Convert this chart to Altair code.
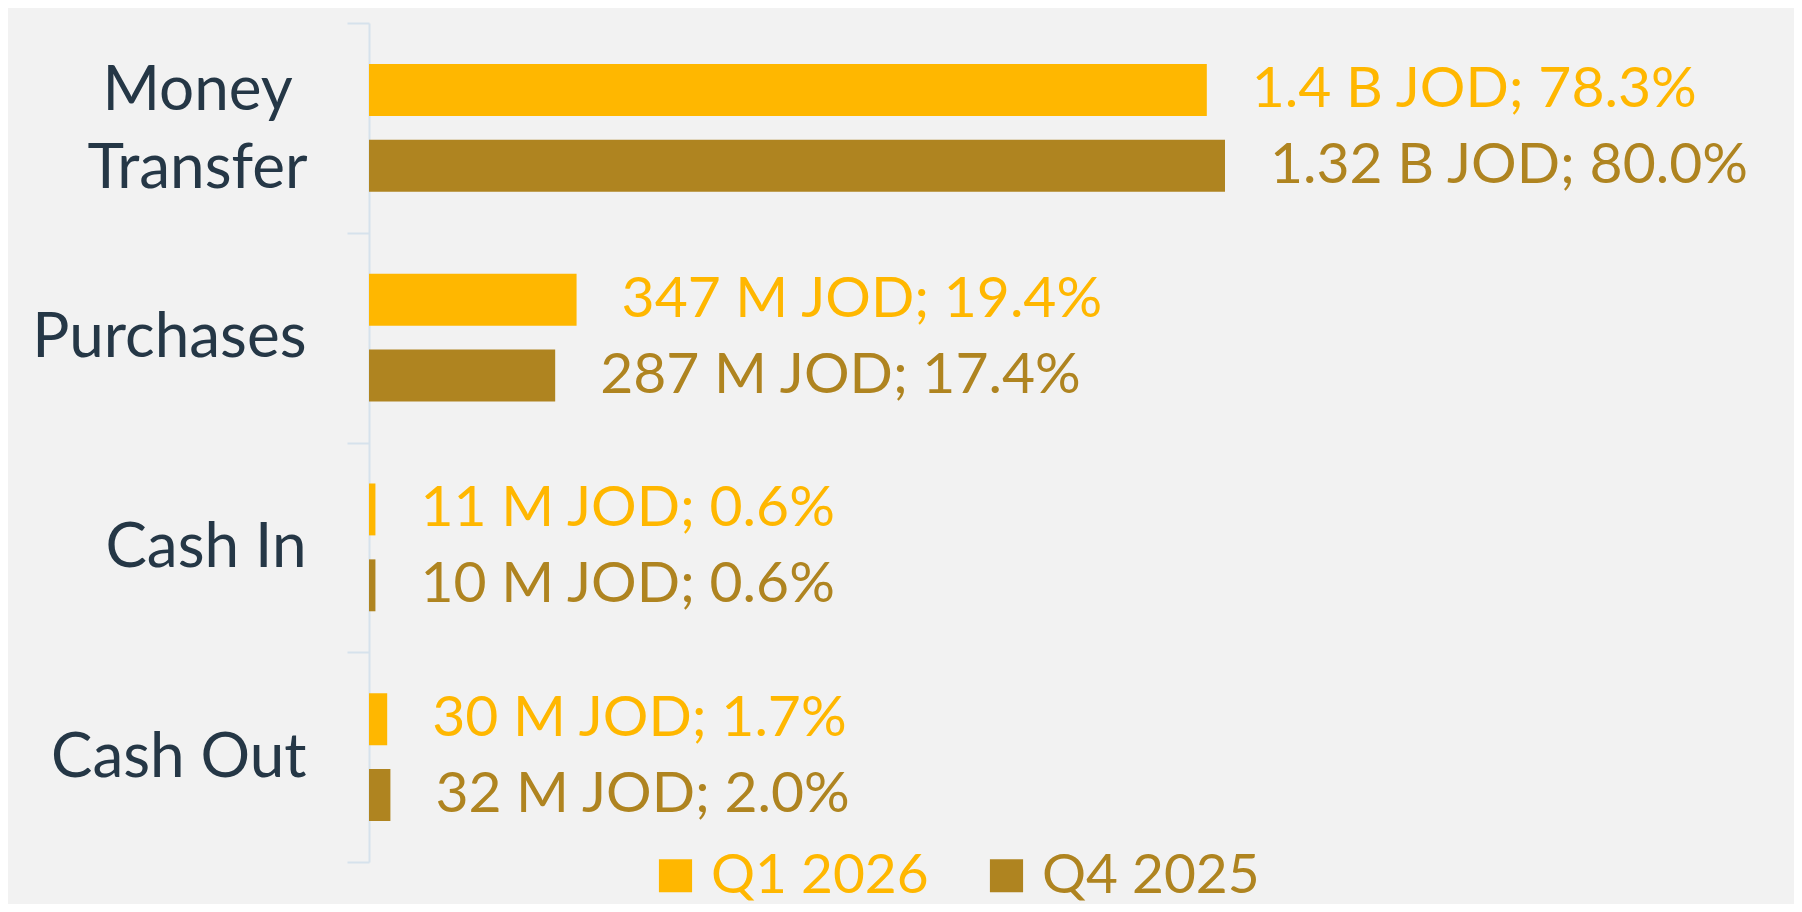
import altair as alt
import pandas as pd

categories = ["Money Transfer", "Purchases", "Cash In", "Cash Out"]
series = ["Q1 2026", "Q4 2025"]
series_colors = ["#FFB700", "#AF8420"]

pct_q1 = [78.3, 19.4, 0.6, 1.7]
pct_q4 = [80.0, 17.4, 0.6, 2.0]
amount_q1 = ["1.4 B", "347 M", "11 M", "30 M"]
amount_q4 = ["1.32 B", "287 M", "10 M", "32 M"]

rows = []
for s, pcts, amts in [(series[0], pct_q1, amount_q1), (series[1], pct_q4, amount_q4)]:
    for c, p, a in zip(categories, pcts, amts):
        rows.append({"category": c, "series": s, "pct": p,
                     "label": f"{a} JOD; {p:.1f}%"})
df = pd.DataFrame(rows)

FONT = "Lato"
TWO_LINE = "datum.label == 'Money Transfer'"

color = alt.Color(
    "series:N",
    scale=alt.Scale(domain=series, range=series_colors),
    legend=alt.Legend(
        title=None,
        orient="none",
        legendX=279,
        legendY=825,
        direction="horizontal",
        symbolType="square",
        symbolSize=1100,
        symbolStrokeWidth=0,
        labelFontSize=55,
        labelFont=FONT,
        labelOffset=8,
        labelLimit=0,
        columnPadding=50,
        labelColor=alt.ExprRef("datum.label == 'Q1 2026' ? '#FFB700' : '#AF8420'"),
    ),
)

base = alt.Chart(df).encode(
    y=alt.Y(
        "category:N",
        sort=categories,
        scale=alt.Scale(paddingInner=0, paddingOuter=0),
        axis=alt.Axis(
            title=None,
            tickBand="extent",
            domainColor="#D6E2EC",
            domainWidth=2,
            tickColor="#D6E2EC",
            tickWidth=2,
            tickSize=22,
            labelFont=FONT,
            labelFontSize=62,
            labelColor="#253746",
            labelLimit=0,
            labelLineHeight=78,
            labelAlign=alt.ConditionalAxisLabelAlign(
                condition={"test": TWO_LINE, "value": "center"},
                value="right",
            ),
            labelPadding=alt.ConditionalAxisNumber(
                condition={"test": TWO_LINE, "value": 150},
                value=41,
            ),
            labelOffset=alt.ConditionalAxisNumber(
                condition={"test": TWO_LINE, "value": -37},
                value=0,
            ),
            labelExpr="datum.label == 'Money Transfer' ? ['Money', 'Transfer'] : datum.label",
        ),
    ),
    yOffset=alt.YOffset(
        "series:N", sort=series,
        scale=alt.Scale(paddingInner=0.316, paddingOuter=0.54),
    ),
    x=alt.X("pct:Q", scale=alt.Scale(domain=[0, 100]), axis=None),
)

bars = base.mark_bar().encode(color=color)
labels = base.mark_text(align="left", baseline="middle", dx=45, font=FONT, fontSize=57).encode(
    text="label:N",
    color=alt.Color("series:N", scale=alt.Scale(domain=series, range=series_colors), legend=None),
)

chart = alt.layer(bars, labels).properties(
    width=1070,
    height=839,
    padding={"left": 361, "top": 15, "right": 355, "bottom": 42},
    autosize=alt.AutoSizeParams(type="none"),
    background="#F2F2F2",
).configure_view(stroke=None)

chart.save("out.html", embed_options={"renderer": "svg", "actions": False})
